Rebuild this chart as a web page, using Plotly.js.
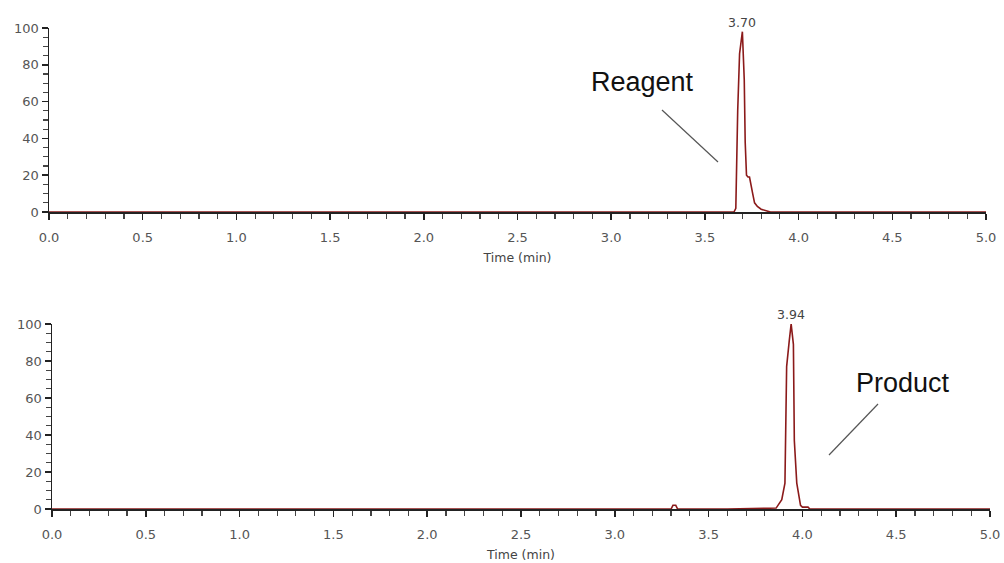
<!DOCTYPE html>
<html><head><meta charset="utf-8">
<script src="https://cdn.plot.ly/plotly-3.0.1.min.js"></script>
<style>html,body{margin:0;padding:0;background:#fff}#chart{width:1004px;height:563px}</style>
</head><body><div id="chart"></div>
<script>
// Reagent chromatogram (top)
const reagentTime = [0.0, 1.0, 2.0, 3.0, 3.655, 3.665, 3.675, 3.685, 3.695, 3.700, 3.710, 3.715, 3.722, 3.730, 3.738, 3.745, 3.755, 3.765, 3.780, 3.800, 3.830, 3.850, 4.0, 5.0];
const reagentIntensity = [0, 0, 0, 0, 0, 2, 55, 86, 96, 98, 72, 38, 20, 19, 19, 16, 10, 5, 3, 1.5, 0.5, 0, 0, 0];
// Product chromatogram (bottom)
const productTime = [0.0, 1.0, 2.0, 3.0, 3.300, 3.310, 3.325, 3.335, 3.60, 3.860, 3.890, 3.907, 3.916, 3.930, 3.940, 3.952, 3.957, 3.970, 3.990, 4.000, 4.030, 4.040, 4.5, 5.0];
const productIntensity = [0, 0, 0, 0, 0, 2, 2, 0, 0, 0.5, 5, 14, 77, 91, 100, 89, 37, 14, 2, 1, 1, 0, 0, 0];
const peakLabels = ["3.70", "3.94"];
const peakTimes = [3.70, 3.94];
const compoundNames = ["Reagent", "Product"];
const xTitle = "Time (min)";

const lineColor = '#8b1a1a';
const smallFamily = 'DejaVu Sans, Verdana, sans-serif';
const tickFont = {family: smallFamily, size: 13, color: '#555'};

function xAxis(domain, anchor) {
  return {
    domain: domain, anchor: anchor, range: [0, 5], dtick: 0.5, tick0: 0, tickformat: '.1f',
    showgrid: false, zeroline: false, showline: true, linecolor: '#222', linewidth: 1.5,
    ticks: 'outside', ticklen: 6, tickcolor: '#222', tickwidth: 1.5,
    minor: {dtick: 0.1, ticks: 'outside', ticklen: 5, tickcolor: '#444', tickwidth: 1.2},
    tickfont: tickFont, ticklabelstandoff: 7, layer: 'below traces',
    title: {text: xTitle, font: {family: smallFamily, size: 12.5, color: '#444'}, standoff: 9},
    fixedrange: true
  };
}
function yAxis(domain, anchor) {
  return {
    domain: domain, anchor: anchor, range: [0, 100], dtick: 20, tick0: 0,
    showgrid: false, zeroline: false, showline: true, linecolor: '#222', linewidth: 1.5,
    ticks: 'outside', ticklen: 6, tickcolor: '#222', tickwidth: 1.5,
    minor: {dtick: 5, ticks: 'outside', ticklen: 5, tickcolor: '#444', tickwidth: 1.2},
    tickfont: tickFont, ticklabelstandoff: 0, layer: 'below traces', fixedrange: true
  };
}

const traces = [
  {x: reagentTime, y: reagentIntensity, xaxis: 'x', yaxis: 'y', type: 'scatter', mode: 'lines',
   line: {color: lineColor, width: 1.6}, cliponaxis: false, hoverinfo: 'skip'},
  {x: productTime, y: productIntensity, xaxis: 'x2', yaxis: 'y2', type: 'scatter', mode: 'lines',
   line: {color: lineColor, width: 1.6}, cliponaxis: false, hoverinfo: 'skip'}
];

const labelFont = {family: smallFamily, size: 12.5, color: '#444'};
const nameFont = {family: 'Liberation Sans, Arial, sans-serif', size: 27, color: '#111'};

const layout = {
  width: 1004, height: 563,
  margin: {l: 0, r: 0, t: 0, b: 0},
  paper_bgcolor: '#fff', plot_bgcolor: '#fff',
  showlegend: false,
  xaxis: xAxis([49/1004, 986/1004], 'y'),
  yaxis: yAxis([1 - 212/563, 1 - 28/563], 'x'),
  xaxis2: xAxis([52/1004, 990/1004], 'y2'),
  yaxis2: yAxis([1 - 509/563, 1 - 324/563], 'x2'),
  annotations: [
    {xref: 'x', yref: 'y', x: peakTimes[0], y: 98, text: peakLabels[0], showarrow: false, yanchor: 'bottom', font: labelFont, yshift: 0},
    {xref: 'x2', yref: 'y2', x: peakTimes[1], y: 100, text: peakLabels[1], showarrow: false, yanchor: 'bottom', font: labelFont, yshift: 0},
    {xref: 'paper', yref: 'paper', x: 642/1004, y: 1 - 82/563, xanchor: 'center', yanchor: 'middle', text: compoundNames[0], showarrow: false, font: nameFont},
    {xref: 'paper', yref: 'paper', x: 903/1004, y: 1 - 383/563, xanchor: 'center', yanchor: 'middle', text: compoundNames[1], showarrow: false, font: nameFont}
  ],
  shapes: [
    {type: 'line', xref: 'paper', yref: 'paper', x0: 662/1004, y0: 1 - 110/563, x1: 718/1004, y1: 1 - 162/563, line: {color: '#555', width: 1.2}},
    {type: 'line', xref: 'paper', yref: 'paper', x0: 878/1004, y0: 1 - 404/563, x1: 829/1004, y1: 1 - 455/563, line: {color: '#555', width: 1.2}}
  ]
};

Plotly.newPlot('chart', traces, layout, {staticPlot: true, displayModeBar: false});
</script></body></html>
